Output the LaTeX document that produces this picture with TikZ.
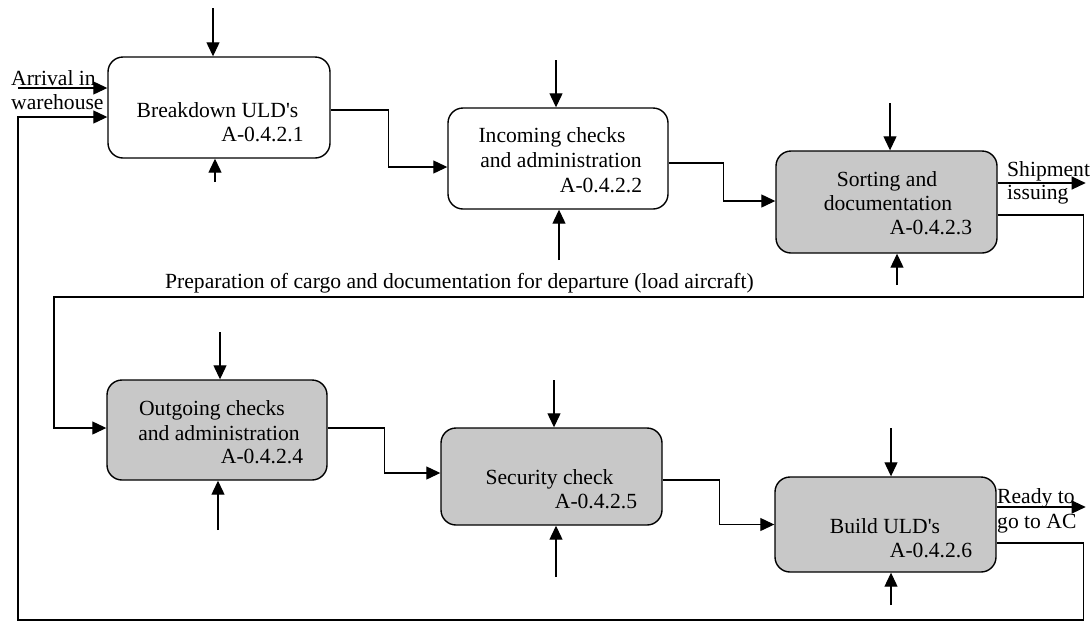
\documentclass[tikz,border=0pt]{standalone}
\usepackage{fontspec}
\setmainfont{Liberation Serif}
\usetikzlibrary{arrows.meta}
\tikzset{
  proc/.style={draw=black, line width=1.4pt, rounded corners=15pt, inner sep=0pt},
  white/.style={proc, fill=white},
  grey/.style={proc, fill={rgb,255:red,200;green,200;blue,200}},
  txt/.style={anchor=base, inner sep=0pt, font=\fontsize{21.6}{25}\selectfont},
  ltxt/.style={anchor=base west, inner sep=0pt, font=\fontsize{21.6}{25}\selectfont},
  flow/.style={line width=1.2pt, -{Triangle[length=14pt,width=13pt]}},
  wire/.style={line width=1.2pt}
}
\begin{document}
\begin{tikzpicture}[x=1pt,y=-1pt]
\useasboundingbox (0,0) rectangle (1092,622);
% boxes
\node[white, minimum width=222pt, minimum height=101pt] (b1) at (219,107.5) {};
\node[white, minimum width=220pt, minimum height=101pt] (b2) at (558,158.5) {};
\node[grey,  minimum width=221pt, minimum height=102pt] (b3) at (886.5,202) {};
\node[grey,  minimum width=220pt, minimum height=100pt] (b4) at (217,430) {};
\node[grey,  minimum width=221pt, minimum height=97pt]  (b5) at (551.5,476.5) {};
\node[grey,  minimum width=221pt, minimum height=95pt]  (b6) at (885.5,524.5) {};
% box texts
\node[txt] (t1a) at (217.5,117) {Breakdown ULD\textquotesingle s};
\node[txt] (t1b) at (262.5,141) {A-0.4.2.1};
\node[txt] (t2a) at (552,142) {Incoming checks};
\node[txt] (t2b) at (561,167) {and administration};
\node[txt] (t2c) at (601,192) {A-0.4.2.2};
\node[txt] (t3a) at (887,186) {Sorting and};
\node[txt] (t3b) at (888,210) {documentation};
\node[txt] (t3c) at (931,234) {A-0.4.2.3};
\node[txt] (t4a) at (212,415) {Outgoing checks};
\node[txt] (t4b) at (219,440) {and administration};
\node[txt] (t4c) at (262,463) {A-0.4.2.4};
\node[txt] (t5a) at (549.5,484) {Security check};
\node[txt] (t5b) at (596,508) {A-0.4.2.5};
\node[txt] (t6a) at (885,533) {Build ULD\textquotesingle s};
\node[txt] (t6b) at (931,557) {A-0.4.2.6};
% outer labels
\node[ltxt] (la1) at (11,85) {Arrival in};
\node[ltxt] (la2) at (11,109) {warehouse};
\node[ltxt] (ls1) at (1007,176) {Shipment};
\node[ltxt] (ls2) at (1007,199) {issuing};
\node[ltxt] (lr1) at (997,503) {Ready to};
\node[ltxt] (lr2) at (997,528) {go to AC};
\node[ltxt] (lp)  at (165,288) {Preparation of cargo and documentation for departure (load aircraft)};
% free ends
\coordinate (arr) at (18,88);
\coordinate (c1t) at (213,8);   \coordinate (c1b) at (215,182);
\coordinate (c2t) at (556,60);  \coordinate (c2b) at (559,260);
\coordinate (c3t) at (890,103); \coordinate (c3b) at (897,285);
\coordinate (c4t) at (220,332); \coordinate (c4b) at (218,530);
\coordinate (c5t) at (554,380); \coordinate (c5b) at (556,577);
\coordinate (c6t) at (891,428); \coordinate (c6b) at (891,605);
% controls and mechanisms
\draw[flow] (c1t) -- (c1t |- b1.north);
\draw[flow] (c1b) -- (c1b |- b1.south);
\draw[flow] (c2t) -- (c2t |- b2.north);
\draw[flow] (c2b) -- (c2b |- b2.south);
\draw[flow] (c3t) -- (c3t |- b3.north);
\draw[flow] (c3b) -- (c3b |- b3.south);
\draw[flow] (c4t) -- (c4t |- b4.north);
\draw[flow] (c4b) -- (c4b |- b4.south);
\draw[flow] (c5t) -- (c5t |- b5.north);
\draw[flow] (c5b) -- (c5b |- b5.south);
\draw[flow] (c6t) -- (c6t |- b6.north);
\draw[flow] (c6b) -- (c6b |- b6.south);
% input
\draw[flow] (arr) -- (arr -| b1.west);
% sequence
\draw[flow] ([yshift=-2.5pt]b1.east) -- ++(58,0) |- ([yshift=-8.5pt]b2.west);
\draw[flow] ([yshift=-4.5pt]b2.east) -- ++(55,0) |- ([yshift=1pt]b3.west);
\draw[flow] ([yshift=2pt]b4.east) -- ++(57,0) |- ([yshift=3.5pt]b5.west);
\draw[flow] ([yshift=-3.5pt]b5.east) -- ++(57,0) |- (b6.west);
% outputs
\draw[flow] ([yshift=19pt]b3.east) -- ++(88,0) coordinate (so);
\draw[flow] ([yshift=17.5pt]b6.east) -- ++(89,0) coordinate (ro);
% loop from sorting to outgoing
\draw[flow] ([yshift=-13pt]b3.east) -- ++(86,0) coordinate (k1) -- (k1 |- 0,297) -- (54,297) |- ([yshift=2pt]b4.west);
% feedback from build ULD's to breakdown
\draw[flow] ([yshift=-18.5pt]b6.east) -- ++(87,0) coordinate (k2) -- (k2 |- 0,620) -- (18,620) |- ([yshift=-9.5pt]b1.west);
\end{tikzpicture}
\end{document}
